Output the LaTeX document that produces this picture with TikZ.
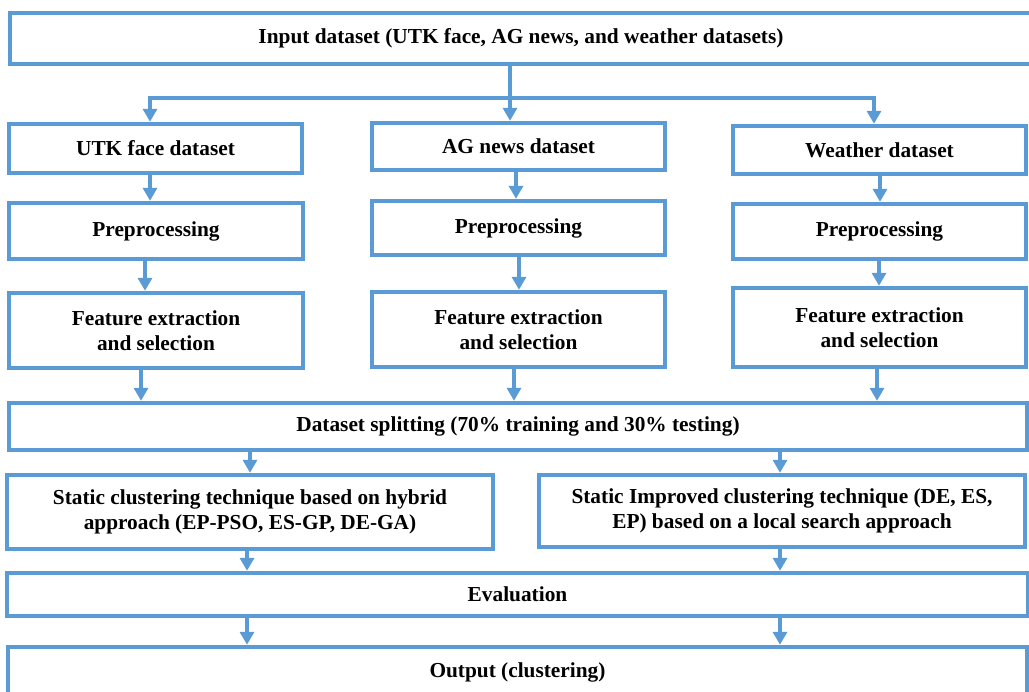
\documentclass[tikz,border=0pt]{standalone}
\usepackage{fontspec}
\setmainfont{Liberation Serif}
\usetikzlibrary{arrows.meta}
\definecolor{flowblue}{RGB}{91,155,213}

\tikzset{every picture/.style={line width=0.75pt}}
\tikzset{
  stagebox/.style={draw=flowblue, line width=3.3pt, fill=white, inner sep=0pt,
    align=center, font=\fontsize{16}{18.75}\selectfont\bfseries},
  flowarrow/.style={draw=flowblue, line width=3.2pt, -{Triangle[length=9.75pt,width=10.5pt]}},
}

\begin{document}
\begin{tikzpicture}[x=0.75pt,y=0.75pt,yscale=-1,xscale=1]
\useasboundingbox (0,0) rectangle (1029,692);

%Shape: Rectangle [id:input]
\node[stagebox, minimum width=766.5pt, minimum height=38.25pt] (input) at (521,38.5) {Input dataset (UTK face, AG news, and weather datasets)};

%Shape: Rectangle [id:utk column]
\node[stagebox, minimum width=219.75pt, minimum height=36.75pt] (utk) at (155.5,148.5) {UTK face dataset};
\node[stagebox, minimum width=220.5pt, minimum height=42pt] (utkpre) at (156,231) {Preprocessing};
\node[stagebox, minimum width=220.5pt, minimum height=56.25pt] (utkfeat) at (156,330.5) {Feature extraction\\and selection};

%Shape: Rectangle [id:ag column]
\node[stagebox, minimum width=219.75pt, minimum height=35.25pt] (ag) at (518.5,146.5) {AG news dataset};
\node[stagebox, minimum width=219.75pt, minimum height=40.5pt] (agpre) at (518.5,228) {Preprocessing};
\node[stagebox, minimum width=219.75pt, minimum height=56.25pt] (agfeat) at (518.5,329.5) {Feature extraction\\and selection};

%Shape: Rectangle [id:weather column]
\node[stagebox, minimum width=219.75pt, minimum height=36pt] (weather) at (879.5,150) {Weather dataset};
\node[stagebox, minimum width=219.75pt, minimum height=41.25pt] (weatherpre) at (879.5,231.5) {Preprocessing};
\node[stagebox, minimum width=219.75pt, minimum height=59.25pt] (weatherfeat) at (879.5,327.5) {Feature extraction\\and selection};

%Shape: Rectangle [id:split]
\node[stagebox, minimum width=763.5pt, minimum height=35.25pt] (split) at (518,426.5) {Dataset splitting (70\% training and 30\% testing)};

%Shape: Rectangle [id:clustering]
\node[stagebox, minimum width=364.5pt, minimum height=55.5pt] (hybrid) at (250,512) {Static clustering technique based on hybrid\\approach (EP-PSO, ES-GP, DE-GA)};
\node[stagebox, minimum width=364.5pt, minimum height=54pt] (improved) at (782,511) {Static Improved clustering technique (DE, ES,\\EP) based on a local search approach};

%Shape: Rectangle [id:eval]
\node[stagebox, minimum width=765.75pt, minimum height=32.25pt] (eval) at (517.5,594.5) {Evaluation};
\node[stagebox, minimum width=764.25pt, minimum height=37.5pt] (output) at (517.5,672) {Output (clustering)};

%Straight Lines [id:input split]
\draw[flowarrow] (input.south -| 510,0) -- (ag.north -| 510,0);
\draw[flowarrow] (input.south -| 510,0) -- ++(0,32) -| (utk.north -| 150,0);
\draw[flowarrow] (input.south -| 510,0) -- ++(0,32) -| (weather.north -| 874,0);

%Straight Lines [id:columns]
\draw[flowarrow] (utk.south -| 150,0) -- (utkpre.north -| 150,0);
\draw[flowarrow] (utkpre.south -| 145,0) -- (utkfeat.north -| 145,0);
\draw[flowarrow] (utkfeat.south -| 141,0) -- (split.north -| 141,0);
\draw[flowarrow] (ag.south -| 516,0) -- (agpre.north -| 516,0);
\draw[flowarrow] (agpre.south -| 519,0) -- (agfeat.north -| 519,0);
\draw[flowarrow] (agfeat.south -| 514,0) -- (split.north -| 514,0);
\draw[flowarrow] (weather.south -| 880,0) -- (weatherpre.north -| 880,0);
\draw[flowarrow] (weatherpre.south -| 879,0) -- (weatherfeat.north -| 879,0);
\draw[flowarrow] (weatherfeat.south -| 877,0) -- (split.north -| 877,0);

%Straight Lines [id:lower]
\draw[flowarrow] (split.south -| 250,0) -- (hybrid.north -| 250,0);
\draw[flowarrow] (split.south -| 780,0) -- (improved.north -| 780,0);
\draw[flowarrow] (hybrid.south -| 247,0) -- (eval.north -| 247,0);
\draw[flowarrow] (improved.south -| 780,0) -- (eval.north -| 780,0);
\draw[flowarrow] (eval.south -| 247,0) -- (output.north -| 247,0);
\draw[flowarrow] (eval.south -| 780,0) -- (output.north -| 780,0);

\end{tikzpicture}
\end{document}
